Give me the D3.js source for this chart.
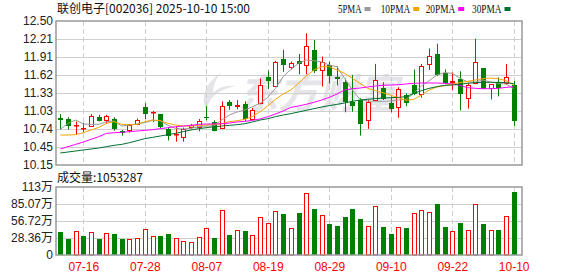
<!DOCTYPE html>
<html>
<head>
<meta charset="utf-8">
<script src="https://cdn.jsdelivr.net/npm/d3@7"></script>
<style>
  body { margin: 0; background: #fff; }
  svg { display: block; }
  text { font-family: "Liberation Sans", Arial, sans-serif; }
</style>
</head>
<body>
<svg id="chart" width="578" height="276"></svg>
<script>
// 联创电子 002036, daily K-line, 2025-07-11 .. 2025-10-10
const dates = [
  "07-11","07-14","07-15","07-16","07-17","07-18","07-21","07-22","07-23","07-24",
  "07-25","07-28","07-29","07-30","07-31","08-01","08-04","08-05","08-06","08-07",
  "08-08","08-11","08-12","08-13","08-14","08-15","08-18","08-19","08-20","08-21",
  "08-22","08-25","08-26","08-27","08-28","08-29","09-01","09-02","09-03","09-04",
  "09-05","09-08","09-09","09-10","09-11","09-12","09-15","09-16","09-17","09-18",
  "09-19","09-22","09-23","09-24","09-25","09-26","09-29","09-30","10-09","10-10"
];
const opens = [
  10.91,10.90,10.78,10.73,10.77,10.93,10.86,10.90,10.71,10.71,
  10.81,11.09,11.00,10.98,10.74,10.64,10.59,10.75,10.75,10.93,
  10.85,10.74,11.17,11.09,11.15,10.88,11.14,11.59,11.43,11.88,
  11.73,11.85,11.77,12.03,11.69,11.79,11.58,11.51,11.18,11.21,
  10.86,11.19,11.40,11.16,11.08,11.30,11.46,11.29,11.78,11.96,
  11.65,11.49,11.56,11.22,11.47,11.73,11.39,11.50,11.48,11.45
];
const highs = [
  10.98,10.93,10.86,10.84,10.98,10.97,10.97,10.93,10.72,10.82,
  10.91,11.16,11.03,10.98,10.77,10.78,10.76,10.82,10.90,11.11,
  10.88,11.19,11.21,11.21,11.19,11.08,11.56,11.69,11.85,12.03,
  11.84,11.96,12.30,12.19,11.92,11.84,11.76,11.56,11.62,11.24,
  11.21,11.80,11.50,11.27,11.42,11.32,11.71,11.80,12.05,12.13,
  11.71,11.66,11.68,11.48,12.21,11.73,11.47,11.58,11.80,11.52
];
const lows = [
  10.73,10.73,10.64,10.69,10.77,10.86,10.83,10.71,10.63,10.68,
  10.80,10.90,10.85,10.75,10.55,10.53,10.53,10.74,10.70,10.88,
  10.70,10.74,11.05,11.06,10.86,10.88,11.14,11.39,11.43,11.67,
  11.71,11.63,11.63,11.65,11.43,11.48,11.45,11.01,11.02,10.63,
  10.74,11.19,11.21,11.01,10.92,11.11,11.29,11.25,11.70,11.60,
  11.47,11.37,11.04,11.07,11.47,11.39,11.22,11.27,11.46,10.79
];
const closes = [
  10.88,10.79,10.80,10.76,10.95,10.87,10.95,10.74,10.67,10.80,
  10.88,10.98,11.02,10.77,10.63,10.66,10.74,10.80,10.87,10.92,
  10.70,11.12,11.11,11.13,10.90,11.05,11.45,11.52,11.83,11.79,
  11.81,11.80,12.09,11.69,11.83,11.61,11.56,11.17,11.12,10.82,
  11.18,11.53,11.23,11.07,11.39,11.16,11.31,11.76,11.93,11.62,
  11.49,11.52,11.31,11.46,11.83,11.39,11.47,11.40,11.58,10.87
];
// volume in 万 (10k shares)
const volumes = [
  38.4,26.7,40.0,31.7,38.4,26.7,36.7,35.0,26.7,26.7,
  28.4,42.8,31.1,31.7,35.0,27.8,23.4,21.7,29.5,44.5,
  28.4,74.5,33.4,41.1,40.0,32.8,62.8,53.4,72.8,68.4,
  45.0,70.6,102.9,76.7,66.2,51.7,48.4,63.4,76.7,60.1,
  47.8,81.2,46.7,35.0,46.2,45.0,70.1,74.5,71.2,85.1,
  46.7,40.0,53.4,41.1,85.1,51.7,41.1,41.7,64.5,105.3287
];
const ma5 = [
  10.732,10.830,10.884,10.819,10.813,10.813,10.857,10.868,10.786,10.802,
  10.819,10.841,10.879,10.873,10.797,10.748,10.737,10.748,10.775,10.786,
  10.786,10.884,10.966,11.015,11.047,11.102,11.156,11.254,11.401,11.591,
  11.711,11.809,11.863,11.852,11.831,11.782,11.754,11.564,11.374,11.221,
  11.194,11.189,11.189,11.194,11.211,11.221,11.319,11.439,11.526,11.618,
  11.657,11.646,11.569,11.504,11.504,11.537,11.504,11.483,11.472,11.395
];
const ma10 = [
  10.639,10.639,10.645,10.677,10.721,10.764,10.830,10.857,10.813,10.808,
  10.813,10.857,10.884,10.873,10.830,10.802,10.786,10.786,10.797,10.802,
  10.813,10.824,10.857,10.873,10.895,10.939,11.020,11.113,11.221,11.308,
  11.374,11.483,11.602,11.700,11.754,11.754,11.700,11.646,11.564,11.483,
  11.401,11.363,11.330,11.287,11.249,11.205,11.222,11.292,11.374,11.423,
  11.444,11.472,11.494,11.515,11.537,11.559,11.569,11.559,11.526,11.455
];
const ma20 = [
  10.411,10.449,10.487,10.525,10.569,10.612,10.666,10.677,10.683,10.694,
  10.705,10.715,10.726,10.743,10.759,10.775,10.786,10.797,10.813,10.819,
  10.819,10.824,10.835,10.852,10.862,10.879,10.900,10.939,10.982,11.031,
  11.091,11.113,11.140,11.172,11.211,11.254,11.308,11.374,11.395,11.406,
  11.423,11.439,11.450,11.455,11.461,11.472,11.483,11.488,11.488,11.488,
  11.483,11.472,11.450,11.412,11.401,11.395,11.395,11.401,11.417,11.428
];
const ma30 = [
  10.346,10.362,10.378,10.395,10.411,10.427,10.449,10.471,10.487,10.514,
  10.547,10.580,10.601,10.623,10.645,10.667,10.694,10.721,10.743,10.759,
  10.775,10.786,10.797,10.808,10.824,10.852,10.884,10.906,10.939,10.966,
  10.988,11.015,11.042,11.069,11.096,11.118,11.140,11.162,11.189,11.211,
  11.222,11.233,11.243,11.249,11.254,11.265,11.319,11.363,11.401,11.428,
  11.450,11.455,11.467,11.483,11.494,11.499,11.499,11.499,11.494,11.477
];
const tickDates = ["07-16","07-28","08-07","08-19","08-29","09-10","09-22","10-10"];
const priceLabels = ["12.50","12.21","11.91","11.62","11.33","11.03","10.74","10.45","10.15"];
const volLabels = ["113万","85.07万","56.72万","28.36万","0"];
const maNames = ["5PMA","10PMA","20PMA","30PMA"];

const title = "联创电子[002036] 2025-10-10 15:00";
const volTitle = "成交量:" + Math.round(volumes[volumes.length - 1] * 10000);

const RED = "#ff0000", GREEN = "#008000";
const maColors = ["#999999", "#f5a300", "#ff00ff", "#006f30"];

const svg = d3.select("#chart");
const L = 56, R = 522;
const mainTop = 21, mainBot = 165, volTop = 187, volBot = 255;

const x = d3.scalePoint().domain(dates).range([60.3, 513.7]);
const y = d3.scaleLinear().domain([10.15, 12.50]).range([mainBot, mainTop]);
const yv = d3.scaleLinear().domain([0, 113.44]).range([volBot, volTop]);

const priceTicks = d3.range(9).map(i => 12.50 - i * (2.35 / 8));
const volTicks = d3.range(5).map(i => 113.44 - i * (113.44 / 4));

const bars = dates.map((d, i) => ({
  date: d, o: opens[i], h: highs[i], l: lows[i], c: closes[i], v: volumes[i],
  up: closes[i] >= opens[i],
  volUp: closes[i] >= (i > 0 ? closes[i - 1] : opens[i])
}));

const px = d => Math.round(x(d)) + 0.5;

// watermark
const wm = svg.append("g").attr("fill", "#e4e4e9");
wm.append("path")
  .attr("d", "M222,72 C206,82 199,98 207,111 C208,99 216,90 236,86 C226,85 219,87 213,93 C213,85 216,78 222,72 Z");
wm.append("text").attr("x", 238).attr("y", 108)
  .style("font-family", "'Noto Sans CJK SC'").style("font-size", "40px").style("font-weight", "bold")
  .style("font-style", "italic").text("东方财富");

// grids
function grid(g, ticks, scale, top, bot) {
  g.selectAll("line.h").data(ticks).join("line").attr("class", "h")
    .attr("x1", L).attr("x2", R)
    .attr("y1", d => Math.round(scale(d)) + 0.5).attr("y2", d => Math.round(scale(d)) + 0.5)
    .attr("stroke", "#cfcfcf");
  g.selectAll("line.v").data(tickDates).join("line").attr("class", "v")
    .attr("x1", px).attr("x2", px).attr("y1", top).attr("y2", bot)
    .attr("stroke", "#cfcfcf").attr("stroke-dasharray", "5,3");
}
grid(svg.append("g"), priceTicks.slice(1, -1), y, mainTop, mainBot);
grid(svg.append("g"), volTicks.slice(1, -1), yv, volTop, volBot);

// candles
const cg = svg.append("g");
const candle = cg.selectAll("g").data(bars).join("g");
candle.append("line")
  .attr("x1", d => px(d.date)).attr("x2", d => px(d.date))
  .attr("y1", d => y(d.h)).attr("y2", d => y(d.l))
  .attr("stroke", d => d.up ? RED : GREEN);
candle.append("rect")
  .attr("x", d => d.up ? px(d.date) - 2 : px(d.date) - 2.5)
  .attr("width", d => d.up ? 4 : 5)
  .attr("y", d => {
    const t = Math.round(y(Math.max(d.o, d.c)));
    return d.up ? t + 0.5 : t;
  })
  .attr("height", d => {
    const t = Math.round(y(Math.max(d.o, d.c))), b = Math.round(y(Math.min(d.o, d.c)));
    return d.up ? Math.max(b - t - 1, 0.5) : Math.max(b - t, 1);
  })
  .attr("fill", d => d.up ? "#fff" : GREEN)
  .attr("stroke", d => d.up ? RED : "none");

// moving averages
[ma5, ma10, ma20, ma30].forEach((arr, k) => {
  const line = d3.line().x((v, i) => x(dates[i])).y(v => y(v));
  svg.append("path").datum(arr).attr("d", line)
    .attr("fill", "none").attr("stroke", maColors[k]).attr("stroke-width", 1);
});

// volume bars
svg.append("g").selectAll("rect").data(bars).join("rect")
  .attr("x", d => d.volUp ? px(d.date) - 2 : px(d.date) - 2.5)
  .attr("width", d => d.volUp ? 4 : 5)
  .attr("y", d => d.volUp ? Math.round(yv(d.v)) + 0.5 : Math.round(yv(d.v)))
  .attr("height", d => d.volUp ? volBot - Math.round(yv(d.v)) - 0.5 : volBot - Math.round(yv(d.v)))
  .attr("fill", d => d.volUp ? "#fff" : GREEN)
  .attr("stroke", d => d.volUp ? RED : "none");

// frames
[[mainTop, mainBot], [volTop, volBot]].forEach(([t, b]) => {
  svg.append("rect").attr("x", L).attr("y", t).attr("width", R - L).attr("height", b - t)
    .attr("fill", "none").attr("stroke", "#999").attr("stroke-width", 1.5);
});

// axes
const ya = svg.append("g").attr("transform", `translate(${L},0)`)
  .call(d3.axisLeft(y).tickValues(priceTicks).tickFormat((d, i) => priceLabels[i]).tickSize(0).tickPadding(3));
const va = svg.append("g").attr("transform", `translate(${L},0)`)
  .call(d3.axisLeft(yv).tickValues(volTicks).tickFormat((d, i) => volLabels[i]).tickSize(0).tickPadding(3));
const xa = svg.append("g").attr("transform", `translate(0,${volBot})`)
  .call(d3.axisBottom(x).tickValues(tickDates).tickSize(0).tickPadding(7));
[ya, va, xa].forEach(g => {
  g.select(".domain").remove();
  g.selectAll("text").style("font-family", "'Liberation Sans', Arial, sans-serif").style("font-size", "12px");
});
ya.selectAll("text").attr("fill", "#222");
va.selectAll("text").attr("fill", "#222").style("font-family", "'Liberation Sans', 'Noto Sans CJK SC', sans-serif");
xa.selectAll("text").attr("fill", RED);

// title and volume caption
svg.append("text").attr("x", 57).attr("y", 12.5)
  .style("font-family", "'Noto Sans CJK SC'").style("font-size", "12px").attr("fill", "#111")
  .text(title);
svg.append("text").attr("x", 57).attr("y", 182)
  .style("font-family", "'Noto Sans CJK SC'").style("font-size", "12px").attr("fill", "#111")
  .text(volTitle);

// legend
const legX = [338, 380.7, 425.7, 472];
const leg = svg.append("g").selectAll("g").data(maNames).join("g");
leg.append("text").attr("x", (d, i) => legX[i]).attr("y", 12.5)
  .style("font-family", "'Liberation Serif', serif").style("font-size", "12.5px").attr("fill", "#111")
  .attr("textLength", d => d.length * 6 - 0.5).attr("lengthAdjust", "spacingAndGlyphs")
  .text(d => d);
leg.append("rect").attr("x", (d, i) => legX[i] + d.length * 6 + 2.5).attr("y", 7)
  .attr("width", 6).attr("height", 4).attr("fill", (d, i) => maColors[i]);
</script>
</body>
</html>
